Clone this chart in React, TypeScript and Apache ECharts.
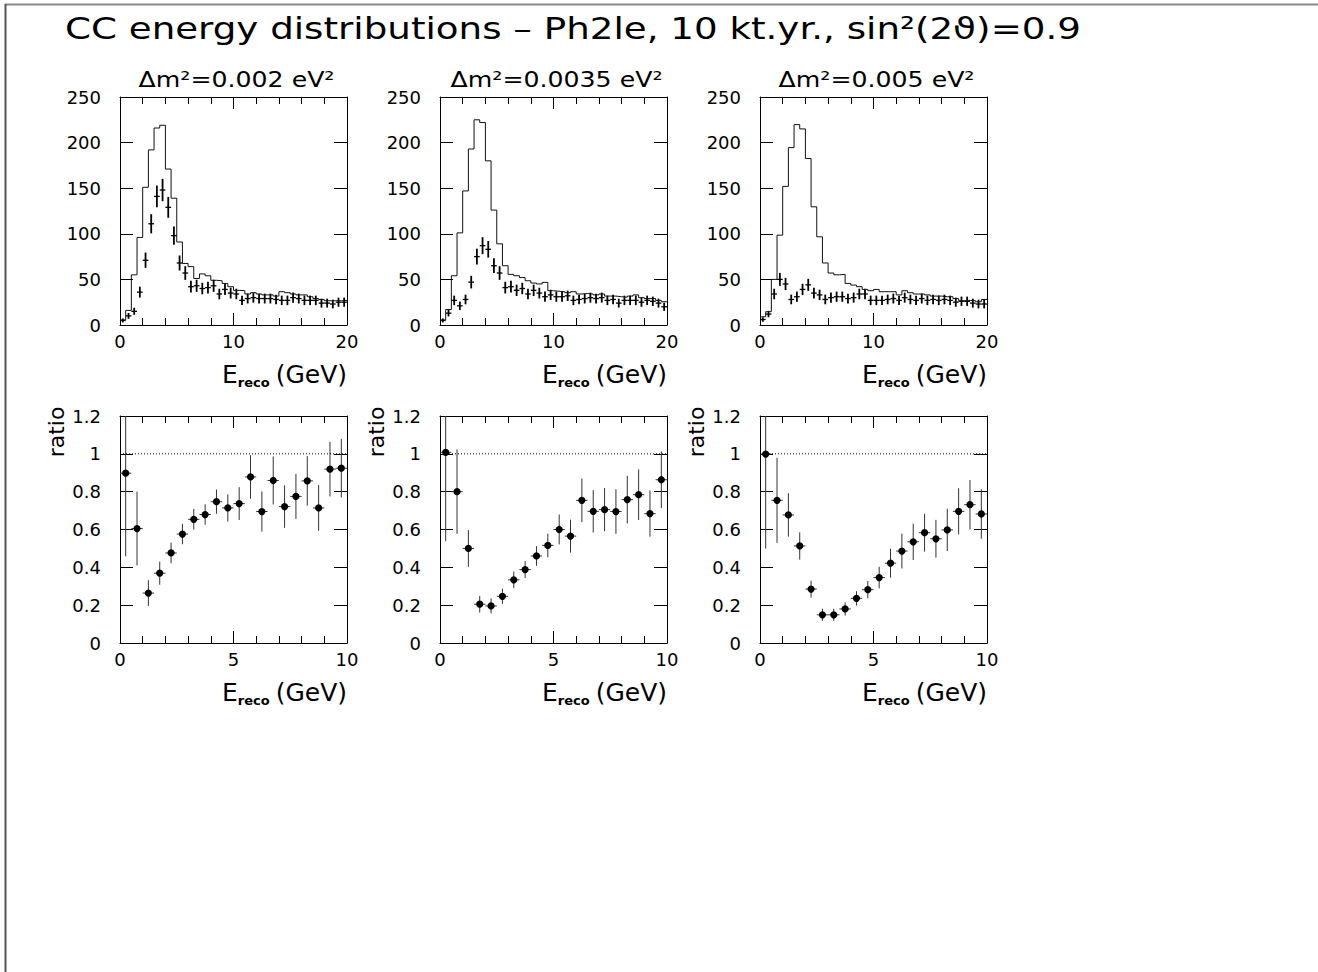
import React, { useEffect, useRef } from "react";
import * as echarts from "echarts";

const FONT = "'DejaVu Sans', 'Liberation Sans', sans-serif";

const TITLE = "CC energy distributions – Ph2le, 10 kt.yr., sin²(2ϑ)=0.9";
const PANEL_TITLES = ["Δm²=0.002 eV²", "Δm²=0.0035 eV²", "Δm²=0.005 eV²"];
const X_NAME_MAIN = "E";
const X_NAME_SUB = "reco";
const X_NAME_UNIT = "(GeV)";
const Y_NAME_RATIO = "ratio";

const BIN_WIDTH = 0.5;
const TOP_X_RANGE = [0, 20];
const TOP_X_INTERVAL = 10;
const TOP_Y_RANGE = [0, 250];
const TOP_Y_INTERVAL = 50;
const BOT_X_RANGE = [0, 10];
const BOT_X_INTERVAL = 5;
const BOT_Y_RANGE = [0, 1.2];
const BOT_Y_INTERVAL = 0.2;
const RATIO_REF = 1;

// Expected (no-oscillation) histograms, 40 bins of 0.5 GeV
const mc0 = [5.5, 16, 55, 96, 151, 192, 216, 219, 171, 139, 91, 67.5, 64, 51, 56, 54, 49, 48.5, 45.6, 42, 38, 37.6, 34, 35.4, 34, 33, 33, 31.7, 36.5, 35.4, 34, 33, 33, 31, 29, 28, 26.6, 26.6, 26.6, 27];
const mc1 = [5.5, 17, 54, 101, 147, 193, 225, 222, 180, 126, 89, 65, 55.5, 54, 52, 48.5, 46, 45, 46.7, 37.6, 37, 36.5, 35.4, 36.5, 34, 34.5, 34, 33, 34, 31.7, 31.7, 31, 30.5, 31.7, 33, 30, 29, 29, 27, 25.5];
const mc2 = [9, 14.6, 50, 98.5, 152, 194.5, 219.7, 215, 182.5, 129.6, 96.7, 68, 57, 55, 55.5, 45.6, 43.8, 42, 39, 37.6, 39, 36.5, 36.5, 36.5, 33, 37.6, 35.4, 34, 34, 33, 31.7, 31.7, 31, 31, 29, 26.6, 27, 26.6, 25.5, 28];

// Oscillated data points and their errors
const data0 = [5, 10, 15, 36, 71, 111, 141, 148, 129, 98, 68, 57, 42, 43, 40, 41, 43, 34, 39, 35, 34, 27, 29, 30, 29, 29, 29, 28, 27, 27, 30, 29, 27, 27, 27, 24, 24, 23, 25, 25];
const err0 = [2.2, 3.2, 3.9, 6, 8.4, 10.5, 11.9, 12.2, 11.4, 9.9, 8.2, 7.5, 6.5, 6.6, 6.3, 6.4, 6.6, 5.8, 6.2, 5.9, 5.8, 5.2, 5.4, 5.5, 5.4, 5.4, 5.4, 5.3, 5.2, 5.2, 5.5, 5.4, 5.2, 5.2, 5.2, 4.9, 4.9, 4.8, 5, 5];
const data1 = [5, 13, 27, 21, 28, 47, 75, 87, 83, 65, 57, 41, 42, 38, 40, 34, 38, 35, 31, 33, 31, 31, 32, 27, 28, 29, 30, 29, 30, 27, 28, 24, 27, 27, 27, 25, 27, 26, 24, 20];
const err1 = [2.2, 3.6, 5.2, 4.6, 5.3, 6.9, 8.7, 9.3, 9.1, 8.1, 7.5, 6.4, 6.5, 6.2, 6.3, 5.8, 6.2, 5.9, 5.6, 5.7, 5.6, 5.6, 5.7, 5.2, 5.3, 5.4, 5.5, 5.4, 5.5, 5.2, 5.3, 4.9, 5.2, 5.2, 5.2, 5, 5.2, 5.1, 4.9, 4.5];
const data2 = [6, 12, 34, 50, 45, 28, 31, 39, 44, 35, 33, 28, 30, 31, 31, 29, 30, 34, 34, 27, 27, 27, 28, 29, 27, 30, 28, 27, 29, 27, 28, 27, 28, 27, 25, 26, 26, 24, 23, 23];
const err2 = [2.4, 3.5, 5.8, 7.1, 6.7, 5.3, 5.6, 6.2, 6.6, 5.9, 5.7, 5.3, 5.5, 5.6, 5.6, 5.4, 5.5, 5.8, 5.8, 5.2, 5.2, 5.2, 5.3, 5.4, 5.2, 5.5, 5.3, 5.2, 5.4, 5.2, 5.3, 5.2, 5.3, 5.2, 5, 5.1, 5.1, 4.9, 4.8, 4.8];

// Ratios, 20 bins of 0.5 GeV
const ratio0 = [0.898, 0.605, 0.264, 0.369, 0.476, 0.576, 0.654, 0.679, 0.747, 0.714, 0.737, 0.878, 0.695, 0.859, 0.721, 0.775, 0.857, 0.714, 0.919, 0.924];
const rerr0 = [0.44, 0.195, 0.068, 0.061, 0.055, 0.054, 0.055, 0.054, 0.064, 0.072, 0.087, 0.115, 0.106, 0.127, 0.112, 0.119, 0.131, 0.121, 0.144, 0.155];
const ratio1 = [1.008, 0.8, 0.5, 0.205, 0.196, 0.247, 0.334, 0.388, 0.46, 0.516, 0.6, 0.565, 0.754, 0.696, 0.705, 0.695, 0.758, 0.784, 0.684, 0.863];
const rerr1 = [0.47, 0.223, 0.097, 0.044, 0.04, 0.04, 0.044, 0.045, 0.052, 0.062, 0.079, 0.087, 0.115, 0.112, 0.114, 0.118, 0.126, 0.134, 0.122, 0.15];
const ratio2 = [0.999, 0.754, 0.677, 0.513, 0.285, 0.149, 0.149, 0.18, 0.236, 0.282, 0.346, 0.422, 0.486, 0.535, 0.583, 0.551, 0.598, 0.696, 0.731, 0.682];
const rerr2 = [0.5, 0.225, 0.115, 0.072, 0.045, 0.032, 0.032, 0.035, 0.038, 0.046, 0.057, 0.076, 0.092, 0.096, 0.1, 0.1, 0.112, 0.122, 0.131, 0.131];

const MC = [mc0, mc1, mc2];
const DATA = [data0, data1, data2];
const DERR = [err0, err1, err2];
const RATIO = [ratio0, ratio1, ratio2];
const RERR = [rerr0, rerr1, rerr2];

// layout
const PANEL_LEFT = [120, 440, 760];
const PANEL_W = 227;
const TOP_Y = 97;
const TOP_H = 228;
const BOT_Y = 416;
const BOT_H = 227;

function makeErr(hw: number, lwH: number, lwV: number, color: string, dot: number) {
  return (params: any, api: any) => {
    const x = api.value(0);
    const y = api.value(1);
    const e = api.value(2);
    const cs = params.coordSys;
    const c = api.coord([x, y]);
    const xl = api.coord([x - hw, y])[0];
    const xr = api.coord([x + hw, y])[0];
    let yt = api.coord([x, y + e])[1];
    let yb = api.coord([x, y - e])[1];
    yt = Math.max(yt, cs.y);
    yb = Math.min(yb, cs.y + cs.height);
    const children: any[] = [
      { type: "line", shape: { x1: xl, y1: c[1], x2: xr, y2: c[1] }, style: { stroke: color, lineWidth: lwH } },
      { type: "line", shape: { x1: c[0], y1: yt, x2: c[0], y2: yb }, style: { stroke: color, lineWidth: lwV } },
    ];
    if (dot > 0) children.push({ type: "circle", shape: { cx: c[0], cy: c[1], r: dot }, style: { fill: "#000" } });
    return { type: "group", children };
  };
}

export default function App() {
  const ref = useRef<HTMLDivElement>(null);
  useEffect(() => {
    if (!ref.current) return;
    const chart = echarts.init(ref.current, null, { renderer: "svg" });
    const canvas = document.createElement("canvas");
    const ctx = canvas.getContext("2d")!;
    const tw = (t: string, font: string) => {
      ctx.font = font;
      return ctx.measureText(t).width;
    };

    const grid: any[] = [];
    const xAxis: any[] = [];
    const yAxis: any[] = [];
    const series: any[] = [];
    const lbl = { fontSize: 18, fontFamily: FONT, color: "#000" };

    for (let p = 0; p < 6; p++) {
      const isTop = p < 3;
      const col = p % 3;
      grid.push({ left: PANEL_LEFT[col], top: isTop ? TOP_Y : BOT_Y, width: PANEL_W, height: isTop ? TOP_H : BOT_H });
      const xr = isTop ? TOP_X_RANGE : BOT_X_RANGE;
      const yr = isTop ? TOP_Y_RANGE : BOT_Y_RANGE;
      for (const pos of ["bottom", "top"]) {
        xAxis.push({
          type: "value", gridIndex: p, position: pos, min: xr[0], max: xr[1],
          interval: isTop ? TOP_X_INTERVAL : BOT_X_INTERVAL,
          axisLine: { show: true, onZero: false, lineStyle: { color: "#000", width: 1 } },
          axisTick: { show: true, inside: true, length: 12, lineStyle: { color: "#000" } },
          minorTick: { show: true, splitNumber: 5, length: 7, lineStyle: { color: "#000" } },
          splitLine: { show: false }, minorSplitLine: { show: false },
          axisLabel: { show: pos === "bottom", margin: 7, ...lbl },
        });
      }
      for (const pos of ["left", "right"]) {
        yAxis.push({
          type: "value", gridIndex: p, position: pos, min: yr[0], max: yr[1],
          interval: isTop ? TOP_Y_INTERVAL : BOT_Y_INTERVAL,
          axisLine: { show: true, onZero: false, lineStyle: { color: "#000", width: 1 } },
          axisTick: { show: true, inside: true, length: 13, lineStyle: { color: "#000" } },
          minorTick: { show: false },
          splitLine: { show: false },
          axisLabel: { show: pos === "left", margin: 19, ...lbl },
        });
      }
      const xi = p * 2;
      const yi = p * 2;
      if (isTop) {
        const mc = MC[col];
        const hist: number[][] = mc.map((v, i) => [i * BIN_WIDTH, v]);
        hist.push([mc.length * BIN_WIDTH, mc[mc.length - 1]]);
        series.push({
          type: "line", xAxisIndex: xi, yAxisIndex: yi, data: hist, step: "end", symbol: "none",
          lineStyle: { color: "#111", width: 1 }, silent: true,
        });
        series.push({
          type: "custom", xAxisIndex: xi, yAxisIndex: yi, encode: { x: 0, y: 1 },
          data: DATA[col].map((v, i) => [(i + 0.5) * BIN_WIDTH, v, DERR[col][i]]),
          renderItem: makeErr(BIN_WIDTH / 2, 1.3, 1.8, "#000", 0), silent: true,
        });
      } else {
        series.push({
          type: "line", xAxisIndex: xi, yAxisIndex: yi,
          data: [[BOT_X_RANGE[0], RATIO_REF], [BOT_X_RANGE[1], RATIO_REF]], symbol: "none",
          lineStyle: { color: "#000", width: 1, type: [1, 2] }, silent: true,
        });
        series.push({
          type: "custom", xAxisIndex: xi, yAxisIndex: yi, encode: { x: 0, y: 1 },
          data: RATIO[col].map((v, i) => [(i + 0.5) * BIN_WIDTH, v, RERR[col][i]]),
          renderItem: makeErr(BIN_WIDTH / 2, 1, 1, "#333", 3.6), silent: true,
        });
      }
    }

    const graphic: any[] = [];
    graphic.push({ type: "line", shape: { x1: 5, y1: 4.5, x2: 1318, y2: 4.5 }, style: { stroke: "#888", lineWidth: 2 } });
    graphic.push({ type: "line", shape: { x1: 5.5, y1: 4, x2: 5.5, y2: 972 }, style: { stroke: "#555", lineWidth: 2 } });
    const txt = (text: string, x: number, y: number, size: number, align: string, extra: any = {}) => {
      const { weight, ...rest } = extra;
      return {
        type: "text", x, y, ...rest,
        style: {
          text, font: `${weight || "normal"} ${size}px ${FONT}`, fill: "#000",
          textAlign: align, align, textVerticalAlign: "middle", verticalAlign: "middle",
        },
      };
    };
    graphic.push(txt(TITLE, 65, 28.5, 31, "left", { scaleX: 1.2 }));
    for (let c = 0; c < 3; c++) {
      graphic.push(txt(PANEL_TITLES[c], PANEL_LEFT[c] + PANEL_W / 2 + 3, 79.5, 21, "center", { scaleX: 1.2 }));
    }
    const mainF = `normal 25px ${FONT}`;
    const subF = `bold 13px ${FONT}`;
    for (let p = 0; p < 6; p++) {
      const isTop = p < 3;
      const col = p % 3;
      const right = PANEL_LEFT[col] + PANEL_W;
      const base = isTop ? 383 : 701;
      const wUnit = tw(X_NAME_UNIT, mainF);
      const wSub = tw(X_NAME_SUB, subF);
      const subRight = right - wUnit - 6;
      graphic.push(txt(X_NAME_UNIT, right, base - 0.346 * 25, 25, "right"));
      graphic.push(txt(X_NAME_SUB, subRight, base + 4 - 0.346 * 13, 13, "right", { weight: "bold" }));
      graphic.push(txt(X_NAME_MAIN, subRight - wSub, base - 0.346 * 25, 25, "right"));
    }
    for (let c = 0; c < 3; c++) {
      graphic.push(txt(Y_NAME_RATIO, PANEL_LEFT[c] - 64, 432, 22, "center", { rotation: Math.PI / 2 }));
    }

    chart.setOption({
      animation: false,
      backgroundColor: "#fff",
      grid, xAxis, yAxis, series, graphic,
    });
    return () => chart.dispose();
  }, []);
  return <div ref={ref} style={{ position: "absolute", left: 0, top: 0, width: 1318, height: 972 }} />;
}
